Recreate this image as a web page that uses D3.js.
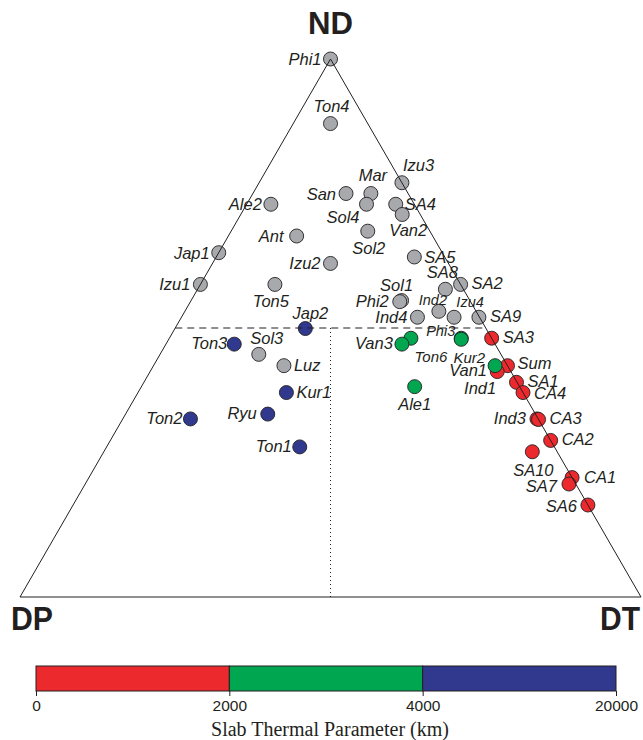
<!DOCTYPE html>
<html>
<head>
<meta charset="utf-8">
<script src="https://cdn.jsdelivr.net/npm/d3@7"></script>
<style>
  body { margin: 0; background: #fff; }
  .slab-label { font-family: "Liberation Sans", Arial, sans-serif; font-style: italic; fill: #231f20; }
  .vertex-label { font-family: "Liberation Sans", Arial, sans-serif; font-weight: bold; fill: #231f20; }
  .cbar-axis text { font-family: "Liberation Sans", Arial, sans-serif; font-size: 15.5px; fill: #231f20; }
  .cbar-title { font-family: "Liberation Serif", "Times New Roman", serif; font-size: 20px; fill: #231f20; }
</style>
</head>
<body>
<div id="chart"></div>
<script>
// Ternary fractions: [name, ND, DT]  (DP = 1 - ND - DT)
const greySlabs = [
  ['Phi1', 1.00, 0.00], ['Ton4', 0.88, 0.06], ['Izu3', 0.77, 0.23], ['Mar', 0.75, 0.19],
  ['San', 0.75, 0.15], ['Sol4', 0.73, 0.193], ['SA4', 0.73, 0.24], ['Van2', 0.711, 0.26],
  ['Ale2', 0.73, 0.039], ['Ant', 0.671, 0.11], ['Jap1', 0.64, 0.00], ['Izu1', 0.581, 0.00],
  ['Izu2', 0.62, 0.19], ['Ton5', 0.581, 0.12], ['Sol2', 0.68, 0.22], ['SA5', 0.632, 0.319],
  ['SA8', 0.572, 0.399], ['SA2', 0.581, 0.419], ['Sol1', 0.551, 0.339], ['Phi2', 0.549, 0.337],
  ['Ind2', 0.531, 0.409], ['Ind4', 0.52, 0.38], ['Izu4', 0.52, 0.439], ['SA9', 0.52, 0.479],
  ['Sol3', 0.451, 0.159], ['Luz', 0.43, 0.21]
];
// thermal parameter 0 - 2000 km
const redSlabs = [
  ['SA3', 0.481, 0.519], ['Sum', 0.43, 0.57], ['Ind1', 0.419, 0.559], ['SA1', 0.399, 0.60],
  ['CA4', 0.38, 0.62], ['Ind3', 0.331, 0.667], ['CA3', 0.33, 0.67], ['CA2', 0.291, 0.709],
  ['SA10', 0.27, 0.69], ['CA1', 0.222, 0.778], ['SA7', 0.21, 0.779], ['SA6', 0.171, 0.829]
];
// thermal parameter 2000 - 4000 km
const greenSlabs = [
  ['Phi3', 0.481, 0.47], ['Kur2', 0.479, 0.471], ['Ton6', 0.481, 0.389], ['Van3', 0.47, 0.38],
  ['Van1', 0.43, 0.55], ['Ale1', 0.391, 0.44]
];
// thermal parameter 4000 - 20000 km
const blueSlabs = [
  ['Jap2', 0.499, 0.21], ['Ton3', 0.47, 0.11], ['Kur1', 0.38, 0.239], ['Ryu', 0.34, 0.229],
  ['Ton2', 0.331, 0.109], ['Ton1', 0.279, 0.311]
];

const vertexLabels = ['ND', 'DP', 'DT'];
const thermalTicks = [0, 2000, 4000, 20000];
const thermalColors = ['#ec2a2e', '#00a650', '#31398f'];
const greyColor = '#a7a9ac';
const cbarTitle = 'Slab Thermal Parameter (km)';

// label placement: [anchor, dx, dy, font size]
const labelPos = {
  Phi1: ['end', -9, 6, 16.5], Ton4: ['middle', 1, -12, 16.5], Izu3: ['start', 1, -12, 16.5],
  Mar: ['middle', 2, -13, 16.5], San: ['end', -10, 6, 16.5], Sol4: ['end', -7, 19, 16.5],
  SA4: ['start', 9, 6, 16.5], Van2: ['middle', 6, 22, 16.5], Ale2: ['end', -9, 6, 16.5],
  Ant: ['end', -13, 6, 16.5], Jap1: ['end', -9, 6, 16.5], Izu1: ['end', -10, 6, 16.5],
  Izu2: ['end', -10, 6, 16.5], Ton5: ['middle', -4, 23, 16.5], Sol2: ['middle', 1, 23, 16.5],
  SA5: ['start', 10, 6, 16.5], SA8: ['middle', -3, -11, 16.5], SA2: ['start', 11, 5, 16.5],
  Sol1: ['middle', -5, -10, 16.5], Phi2: ['end', -11, 5, 16.5], Ind2: ['middle', -6, -6, 14.5],
  Ind4: ['end', -10, 6, 16.5], Izu4: ['middle', 16, -10, 14.5], SA9: ['start', 11, 5, 16.5],
  Sol3: ['middle', 8, -10, 16.5], Luz: ['start', 10, 5, 16.5],
  SA3: ['start', 11, 5, 16.5], Sum: ['start', 10, 3, 16.5], Ind1: ['end', -1, 22, 16.5],
  SA1: ['start', 11, 5, 16.5], CA4: ['start', 11, 6, 16.5], Ind3: ['end', -11, 5, 16.5],
  CA3: ['start', 11, 5, 16.5], CA2: ['start', 11, 5, 16.5], SA10: ['middle', 1, 24, 16.5],
  CA1: ['start', 12, 5, 16.5], SA7: ['end', -12, 8, 16.5], SA6: ['end', -11, 7, 16.5],
  Phi3: ['end', -6, -2, 14.5], Kur2: ['middle', 8, 24, 15], Ton6: ['middle', 20, 24, 15],
  Van3: ['end', -9, 5, 16.5], Van1: ['end', -8, 10, 16.5], Ale1: ['middle', 0, 23, 16.5],
  Jap2: ['middle', 5, -10, 16.5], Ton3: ['end', -7, 5, 16.5], Kur1: ['start', 10, 5, 16.5],
  Ryu: ['end', -11, 5, 16.5], Ton2: ['end', -8, 5, 16.5], Ton1: ['end', -8, 5, 16.5]
};

const width = 643, height = 740;
const tri = {left: 20, right: 641, top: 59, bottom: 597};
const radius = 7;

const svg = d3.select('#chart').append('svg')
  .attr('width', width)
  .attr('height', height);

// ND runs bottom -> apex, the horizontal position is DT + ND/2 across the base
const yScale = d3.scaleLinear().domain([0, 1]).range([tri.bottom, tri.top]);
const xScale = d3.scaleLinear().domain([0, 1]).range([tri.left, tri.right]);
const project = (nd, dt) => [xScale(dt + nd / 2), yScale(nd)];

const slabs = [
  ...greySlabs.map(d => ({name: d[0], nd: d[1], dt: d[2], color: greyColor})),
  ...redSlabs.map(d => ({name: d[0], nd: d[1], dt: d[2], color: thermalColors[0]})),
  ...greenSlabs.map(d => ({name: d[0], nd: d[1], dt: d[2], color: thermalColors[1]})),
  ...blueSlabs.map(d => ({name: d[0], nd: d[1], dt: d[2], color: thermalColors[2]}))
];

// points
svg.append('g').selectAll('circle')
  .data(slabs)
  .join('circle')
    .attr('cx', d => project(d.nd, d.dt)[0])
    .attr('cy', d => project(d.nd, d.dt)[1])
    .attr('r', radius)
    .attr('fill', d => d.color)
    .attr('stroke', '#231f20')
    .attr('stroke-width', 0.9);

// triangle outline and guide lines go on top of the points
const corners = [project(1, 0), project(0, 0), project(0, 1)];
svg.append('path')
  .attr('d', d3.line()(corners) + 'Z')
  .attr('fill', 'none')
  .attr('stroke', '#231f20')
  .attr('stroke-width', 1);

svg.append('line')
  .attr('x1', project(0.5, 0)[0]).attr('y1', yScale(0.5))
  .attr('x2', project(0.5, 0.5)[0]).attr('y2', yScale(0.5))
  .attr('stroke', '#231f20')
  .attr('stroke-width', 1.1)
  .attr('stroke-dasharray', '7,5');

svg.append('line')
  .attr('x1', project(0.5, 0.25)[0]).attr('y1', yScale(0.5))
  .attr('x2', project(0, 0.5)[0]).attr('y2', yScale(0))
  .attr('stroke', '#231f20')
  .attr('stroke-width', 1)
  .attr('stroke-dasharray', '1,3');

// point labels
svg.append('g').selectAll('text')
  .data(slabs)
  .join('text')
    .attr('class', 'slab-label')
    .attr('x', d => project(d.nd, d.dt)[0] + labelPos[d.name][1])
    .attr('y', d => project(d.nd, d.dt)[1] + labelPos[d.name][2])
    .attr('text-anchor', d => labelPos[d.name][0])
    .attr('font-size', d => labelPos[d.name][3])
    .text(d => d.name);

// vertex labels
svg.append('text').attr('class', 'vertex-label')
  .attr('x', corners[0][0]).attr('y', 34)
  .attr('text-anchor', 'middle').attr('font-size', 32)
  .attr('textLength', 45).attr('lengthAdjust', 'spacingAndGlyphs')
  .text(vertexLabels[0]);
svg.append('text').attr('class', 'vertex-label')
  .attr('x', 11).attr('y', 630)
  .attr('font-size', 33)
  .attr('textLength', 42).attr('lengthAdjust', 'spacingAndGlyphs')
  .text(vertexLabels[1]);
svg.append('text').attr('class', 'vertex-label')
  .attr('x', 600).attr('y', 630)
  .attr('font-size', 33)
  .attr('textLength', 40).attr('lengthAdjust', 'spacingAndGlyphs')
  .text(vertexLabels[2]);

// colour bar: equally spaced bins between the tick values
const cbar = {left: 36, right: 616, top: 666, height: 25};
const cScale = d3.scalePoint().domain(thermalTicks).range([cbar.left, cbar.right]);
const bins = d3.pairs(thermalTicks);

svg.append('g').selectAll('rect')
  .data(bins)
  .join('rect')
    .attr('x', d => cScale(d[0]))
    .attr('y', cbar.top)
    .attr('width', d => cScale(d[1]) - cScale(d[0]))
    .attr('height', cbar.height)
    .attr('fill', (d, i) => thermalColors[i])
    .attr('stroke', '#231f20')
    .attr('stroke-width', 1);

const cAxis = d3.axisBottom(cScale).tickSize(5).tickPadding(4).tickFormat(d => d);
svg.append('g')
  .attr('class', 'cbar-axis')
  .attr('transform', `translate(0,${cbar.top + cbar.height})`)
  .call(cAxis)
  .call(g => g.select('.domain').remove())
  .call(g => g.selectAll('.tick line').attr('stroke', '#231f20'));

svg.append('text')
  .attr('class', 'cbar-title')
  .attr('x', (cbar.left + cbar.right) / 2 + 4)
  .attr('y', 736)
  .attr('text-anchor', 'middle')
  .text(cbarTitle);
</script>
</body>
</html>
